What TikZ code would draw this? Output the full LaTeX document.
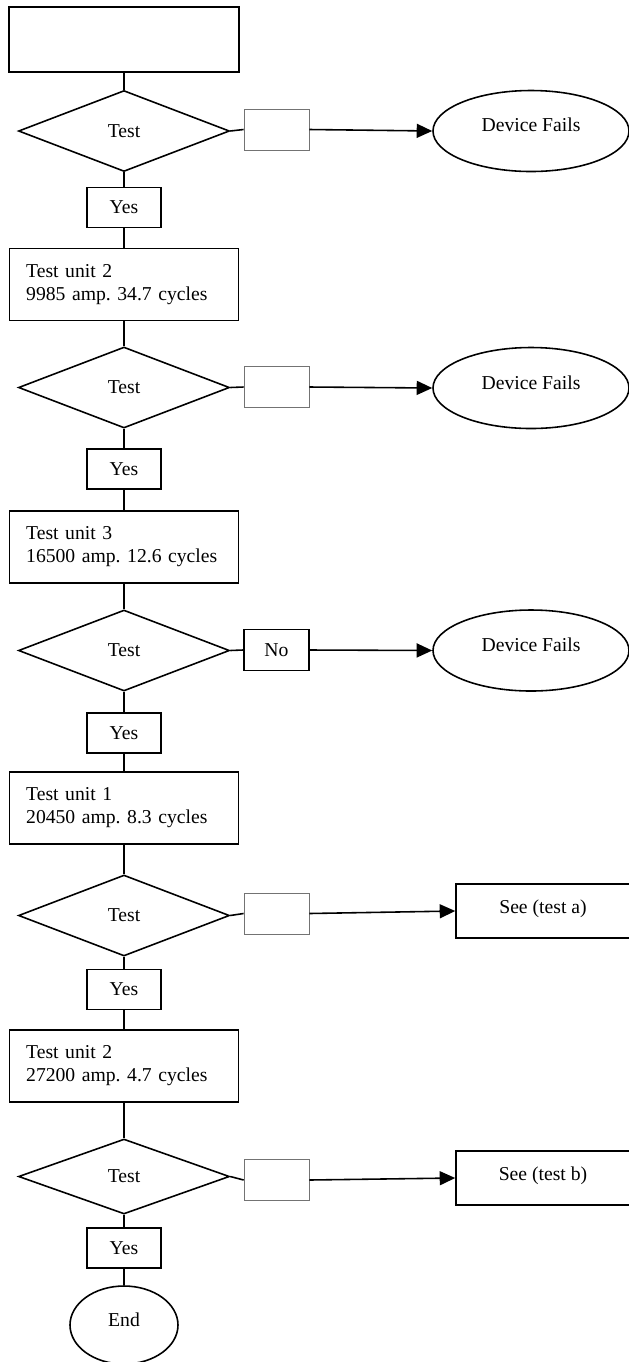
\documentclass[tikz,border=0pt]{standalone}
\usepackage{fontspec}
\setmainfont{Liberation Serif}
\usetikzlibrary{shapes.geometric,arrows.meta}
\frenchspacing
\tikzset{
  every node/.style={font=\fontsize{11.8}{13.8}\selectfont},
  box/.style={draw, line width=0.95pt, rectangle},
  unitbox/.style={box, minimum width=137.4pt, minimum height=43.2pt, text width=117.4pt, inner xsep=10pt, align=left},
  testbox/.style={draw, line width=0.95pt, diamond, minimum width=126.6pt, minimum height=48.6pt, inner sep=1pt},
  yesbox/.style={box, minimum width=44.4pt, minimum height=24pt},
  blankbox/.style={draw=black!55, line width=0.45pt, minimum width=39pt, minimum height=24.6pt},
  nobox/.style={box, minimum width=39pt, minimum height=24.6pt},
  fails/.style={draw, line width=0.95pt, ellipse, minimum width=117.6pt, minimum height=48.6pt, text depth=7pt},
  seebox/.style={box, minimum width=104.4pt, minimum height=32.4pt, text depth=5pt},
  endnode/.style={draw, line width=0.95pt, ellipse, minimum width=64.8pt, minimum height=46.8pt, text depth=7pt},
  link/.style={line width=0.95pt},
  flow/.style={line width=0.95pt, -{Triangle[length=9.3pt,width=8.4pt]}}
}
\begin{document}
\begin{tikzpicture}[x=0.6pt, y=-0.6pt]
\useasboundingbox (0,0) rectangle (629,1362);
% main column
\node[box, minimum width=138pt, minimum height=39pt] (start) at (124,39.5) {};
\node[testbox] (d1) at (124,131) {Test};
\node[yesbox] (y1) at (124,207.5) {Yes};
\node[unitbox] (u2) at (124,284.5) {Test unit 2\\9985 amp. 34.7 cycles};
\node[testbox] (d2) at (124,387.5) {Test};
\node[yesbox] (y2) at (124,469) {Yes};
\node[unitbox] (u3) at (124,547) {Test unit 3\\16500 amp. 12.6 cycles};
\node[testbox] (d3) at (124,650.5) {Test};
\node[yesbox] (y3) at (124,733) {Yes};
\node[unitbox] (u1) at (124,808) {Test unit 1\\20450 amp. 8.3 cycles};
\node[testbox] (d4) at (124,915.5) {Test};
\node[yesbox] (y4) at (124,989.5) {Yes};
\node[unitbox] (u2b) at (124,1066) {Test unit 2\\27200 amp. 4.7 cycles};
\node[testbox, minimum height=45pt] (d5) at (124,1176.5) {Test};
\node[yesbox] (y5) at (124,1248) {Yes};
\node[endnode] (stop) at (124,1325) {End};
% side branches
\node[blankbox] (b1) at (276.5,129.5) {};
\node[blankbox] (b2) at (276.5,387) {};
\node[nobox] (b3) at (276.5,650) {No};
\node[blankbox] (b4) at (276.5,913.5) {};
\node[blankbox] (b5) at (276.5,1180) {};
\node[fails] (f1) at (531,131) {Device Fails};
\node[fails] (f2) at (531,388) {Device Fails};
\node[fails] (f3) at (531,650.5) {Device Fails};
\node[seebox] (sa) at (543,911) {See (test a)};
\node[seebox] (sb) at (543,1178) {See (test b)};
\foreach \a/\b in {start/d1, d1/y1, y1/u2, u2/d2, d2/y2, y2/u3, u3/d3, d3/y3, y3/u1, u1/d4, d4/y4, y4/u2b, u2b/d5, d5/y5, y5/stop}
  \draw[link] (\a) -- (\b);
\foreach \d/\b in {d1/b1, d2/b2, d3/b3, d4/b4, d5/b5}
  \draw[link] (\d.east) -- (\b.west);
\foreach \b/\t in {b1/f1, b2/f2, b3/f3, b4/sa, b5/sb}
  \draw[flow] (\b.east) -- (\t.west);
\end{tikzpicture}
\end{document}
